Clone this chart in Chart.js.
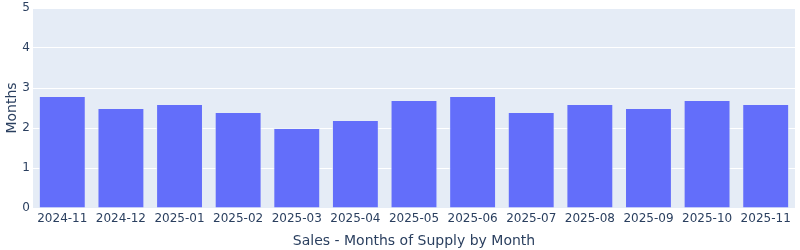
<!DOCTYPE html>
<html>
<head>
<meta charset="utf-8">
<script src="https://cdn.jsdelivr.net/npm/chart.js@4"></script>
<style>
  html, body { margin: 0; padding: 0; background: #fff; }
  #wrap { width: 800px; height: 250px; }
</style>
</head>
<body>
<div id="wrap"><canvas id="supplyChart" width="800" height="250"></canvas></div>
<script>
const months = ['2024-11','2024-12','2025-01','2025-02','2025-03','2025-04','2025-05',
                '2025-06','2025-07','2025-08','2025-09','2025-10','2025-11'];
const monthsOfSupply = [2.8, 2.5, 2.6, 2.4, 2.0, 2.2, 2.7, 2.8, 2.4, 2.6, 2.5, 2.7, 2.6];
const yTicks = [0, 1, 2, 3, 4, 5];

const plotBg = {
  id: 'plotBg',
  beforeDraw(chart) {
    const { ctx, chartArea: a } = chart;
    ctx.save();
    ctx.fillStyle = '#e5ecf6';
    ctx.fillRect(a.left, a.top, a.right - a.left, a.bottom - a.top);
    ctx.restore();
  }
};

const fontFam = '"DejaVu Sans", verdana, arial, sans-serif';
const ctx = document.getElementById('supplyChart').getContext('2d');
new Chart(ctx, {
  type: 'bar',
  data: {
    labels: months,
    datasets: [{
      label: 'Months',
      data: monthsOfSupply,
      backgroundColor: '#636efa',
      borderColor: 'rgba(229,236,246,0.6)',
      borderWidth: 1,
      categoryPercentage: 0.8,
      barPercentage: 1.0
    }]
  },
  options: {
    responsive: false,
    animation: false,
    layout: { padding: { top: 8, right: 5, left: 0, bottom: 0 } },
    plugins: { legend: { display: false }, tooltip: { enabled: false } },
    scales: {
      x: {
        grid: { display: false, drawTicks: false },
        border: { display: false },
        ticks: { color: '#2a3f5f', font: { family: fontFam, size: 12 }, padding: 4, maxRotation: 0, autoSkip: false },
        title: { display: true, text: 'Sales - Months of Supply by Month', color: '#2a3f5f',
                 font: { family: fontFam, size: 14 }, padding: { top: 6, bottom: 0 } },
        afterFit(s) { s.height = 42; }
      },
      y: {
        min: 0, max: 5,
        afterBuildTicks(s) { s.ticks = yTicks.map(v => ({ value: v })); },
        grid: { color: '#ffffff', lineWidth: 1, drawTicks: false },
        border: { display: false },
        ticks: { color: '#2a3f5f', font: { family: fontFam, size: 12, lineHeight: 0.8 }, padding: 3 },
        title: { display: true, text: 'Months', color: '#2a3f5f',
                 font: { family: fontFam, size: 14 }, padding: { top: 4, bottom: 0 } },
        afterFit(s) { s.width = 33; }
      }
    }
  },
  plugins: [plotBg]
});
</script>
</body>
</html>
